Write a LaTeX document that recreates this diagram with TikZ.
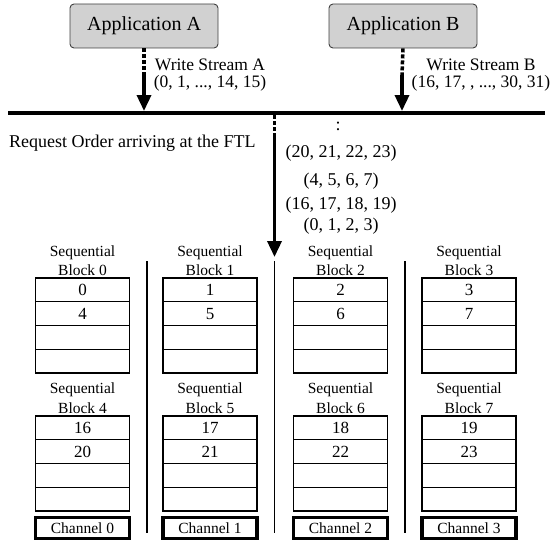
\documentclass[tikz,border=0pt]{standalone}
\usepackage{fontspec}
\setmainfont{Liberation Serif}
\usetikzlibrary{arrows.meta}

\begin{document}
\begin{tikzpicture}[x=1pt,y=-1pt,
  app/.style={draw=black!75, fill=black!18, rounded corners=4pt, line width=0.9pt,
    minimum width=148pt, minimum height=44pt, inner sep=0pt,
    font=\fontsize{20}{24}\selectfont},
  cell/.style={draw, line width=1.1pt, minimum width=94pt, minimum height=23.75pt,
    inner sep=0pt, font=\fontsize{17}{20}\selectfont},
  chan/.style={draw, line width=3.2pt, minimum width=94pt, minimum height=21pt,
    inner sep=0pt, font=\fontsize{15.5}{18}\selectfont},
  blab/.style={align=center, inner sep=0pt, font=\fontsize{15.5}{19.5}\selectfont},
  stream/.style={align=center, inner sep=0pt, font=\fontsize{17.5}{16.5}\selectfont},
  seq/.style={inner sep=0pt, font=\fontsize{18}{20}\selectfont},
  flow/.style={line width=3.5pt, -{Triangle[width=14pt,length=16pt]}},
  dotline/.style={line width=3.5pt, dash pattern=on 4pt off 2pt},
  sep/.style={line width=1.8pt},
  bus/.style={line width=4pt}
]
\useasboundingbox (0,0) rectangle (551,543);

% applications
\node[app] (appA) at (144,26) {Application A};
\node[app] (appB) at (403,26) {Application B};

% shared bus
\coordinate (busL) at (8,113);
\coordinate (busR) at (545,113);
\draw[bus] (busL) -- (busR);

% write streams
\coordinate (aMid) at (144,75);
\coordinate (aHit) at (144,111);
\coordinate (bMid) at (402,75);
\coordinate (bHit) at (402,111);
\draw[dotline] (appA.south) -- (aMid);
\draw[flow] (aMid) -- (aHit);
\draw[dotline] (appB.south) -- (bMid);
\draw[flow] (bMid) -- (bHit);
\node[stream] (wsA) at (210,75) {Write Stream A\\(0, 1, ..., 14, 15)};
\node[stream] (wsB) at (481,75) {Write Stream B\\(16, 17, , ..., 30, 31)};

% request order into the FTL
\coordinate (rTop) at (274.5,115);
\coordinate (rMid) at (274.5,135);
\coordinate (rEnd) at (274.5,257);
\draw[dotline] (rTop) -- (rMid);
\draw[flow] (rMid) -- (rEnd);
\node[seq, anchor=west] (req) at (9,143) {Request Order arriving at the FTL};
\node[seq] (more) at (338,126) {:};
\node[seq] (r3) at (341,153) {(20, 21, 22, 23)};
\node[seq] (r2) at (341,181) {(4, 5, 6, 7)};
\node[seq] (r1) at (341,205) {(16, 17, 18, 19)};
\node[seq] (r0) at (341,226) {(0, 1, 2, 3)};

% channel separators
\foreach \x/\n in {147/s1, 274.5/s2, 405/s3} {
  \coordinate (\n t) at (\x,261);
  \coordinate (\n b) at (\x,533);
  \draw[sep] (\n t) -- (\n b);
}

% sequential blocks
\foreach \c/\x/\ta/\tb/\ba/\bb in {0/82.5/0/4/16/20, 1/210/1/5/17/21, 2/340.5/2/6/18/22, 3/469/3/7/19/23} {
  \pgfmathtruncatemacro{\lo}{\c+4}
  \node[blab] (lt\c) at (\x,260.5) {Sequential\\Block \c};
  \node[cell] (t\c a) at (\x,289.9) {\ta};
  \node[cell] (t\c b) at (\x,313.6) {\tb};
  \node[cell] (t\c c) at (\x,337.4) {};
  \node[cell] (t\c d) at (\x,361.1) {};
  \node[blab] (lb\c) at (\x,398) {Sequential\\Block \lo};
  \node[cell] (b\c a) at (\x,427.9) {\ba};
  \node[cell] (b\c b) at (\x,451.6) {\bb};
  \node[cell] (b\c c) at (\x,475.4) {};
  \node[cell] (b\c d) at (\x,499.1) {};
  \node[chan] (ch\c) at (\x,528) {Channel \c};
}
\end{tikzpicture}
\end{document}
